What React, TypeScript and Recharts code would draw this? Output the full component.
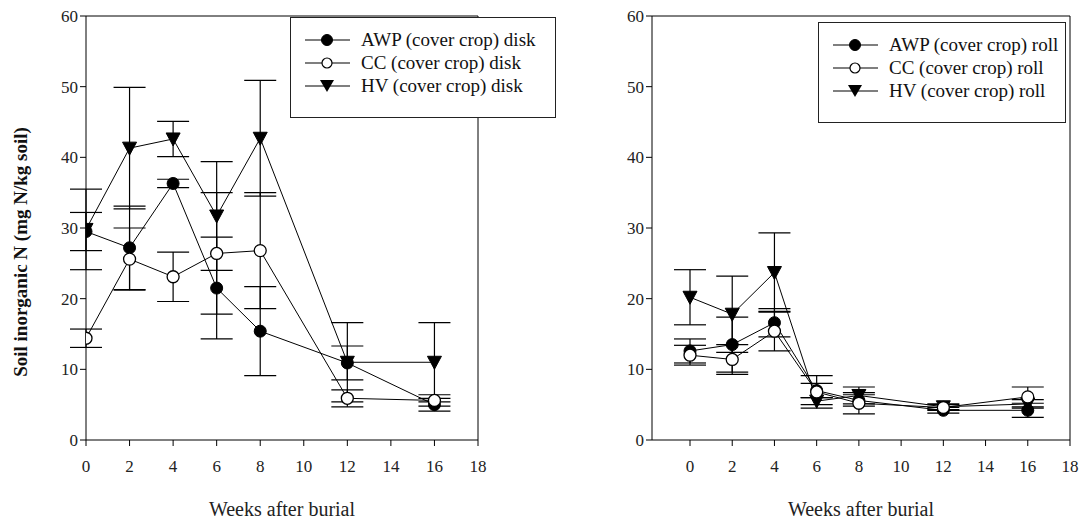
import React from 'react';
import { LineChart, Line, XAxis, YAxis, ErrorBar, Legend, ReferenceLine } from 'recharts';

const weeks = [0, 2, 4, 6, 8, 12, 16];

const awpDisk = [29.5, 27.2, 36.3, 21.5, 15.4, 10.9, 5.0];
const awpDiskErr = [2.7, 5.9, 0.6, 7.2, 6.3, 2.4, 0.9];
const ccDisk = [14.4, 25.6, 23.1, 26.4, 26.8, 5.9, 5.6];
const ccDiskErr = [1.3, 4.4, 3.5, 8.6, 8.2, 1.2, 0.8];
const hvDisk = [29.8, 41.3, 42.6, 31.7, 42.7, 11.0, 11.0];
const hvDiskErr = [5.7, 8.6, 2.5, 7.7, 8.2, 5.6, 5.6];

const awpRoll = [12.6, 13.5, 16.6, 7.0, 5.6, 4.2, 4.2];
const awpRollErr = [1.7, 3.9, 2.0, 1.0, 0.8, 0.4, 1.0];
const ccRoll = [12.0, 11.4, 15.4, 6.8, 5.2, 4.6, 6.1];
const ccRollErr = [1.4, 2.1, 2.8, 2.3, 1.5, 0.4, 1.4];
const hvRoll = [20.2, 17.8, 23.7, 5.5, 6.3, 4.7, 5.1];
const hvRollErr = [3.9, 5.4, 5.6, 0.5, 1.2, 0.4, 0.6];

const xTicks = [0, 2, 4, 6, 8, 10, 12, 14, 16, 18];
const yTicks = [0, 10, 20, 30, 40, 50, 60];

const diskLabels = ['AWP (cover crop) disk', 'CC (cover crop) disk', 'HV (cover crop) disk'];
const rollLabels = ['AWP (cover crop) roll', 'CC (cover crop) roll', 'HV (cover crop) roll'];

const FONT = 'Liberation Serif';

function buildRows(a: number[], ae: number[], c: number[], ce: number[], h: number[], he: number[]) {
  return weeks.map((w, i) => ({
    week: w,
    awp: a[i], awpErr: ae[i],
    cc: c[i], ccErr: ce[i],
    hv: h[i], hvErr: he[i],
  }));
}

const diskRows = buildRows(awpDisk, awpDiskErr, ccDisk, ccDiskErr, hvDisk, hvDiskErr);
const rollRows = buildRows(awpRoll, awpRollErr, ccRoll, ccRollErr, hvRoll, hvRollErr);

const Tri = (props: any) => {
  const { cx, cy, index } = props;
  if (cx == null || cy == null) return null;
  return (
    <path
      key={`tri-${index}`}
      d={`M${cx - 7},${cy - 6} L${cx + 7},${cy - 6} L${cx},${cy + 7} Z`}
      fill="#000"
      stroke="#000"
      strokeWidth={1}
    />
  );
};

const makeLegend = (labels: string[]) => () => (
  <div
    style={{
      border: '1.5px solid #222',
      background: '#fff',
      padding: '10px 0 10px 12px',
      boxSizing: 'border-box',
      width: '100%',
      height: '100%',
      fontFamily: FONT,
      fontSize: 19,
      color: '#111',
    }}
  >
    {labels.map((lab, i) => (
      <div key={lab} style={{ display: 'flex', alignItems: 'center', height: 23, whiteSpace: 'nowrap' }}>
        <svg width={52} height={16} style={{ marginRight: 6 }}>
          <line x1={2} y1={8} x2={47} y2={8} stroke="#000" strokeWidth={1.2} />
          {i === 0 && <circle cx={24} cy={8} r={5.5} fill="#000" stroke="#000" />}
          {i === 1 && <circle cx={24} cy={8} r={5} fill="#fff" stroke="#000" strokeWidth={1.2} />}
          {i === 2 && <path d="M17,2 L31,2 L24,14 Z" fill="#000" />}
        </svg>
        <span>{lab}</span>
      </div>
    ))}
  </div>
);

const tickStyle = { fontFamily: FONT, fontSize: 17, fill: '#222' };

type PanelProps = {
  rows: any[];
  width: number;
  left: number;
  marginLeft: number;
  marginRight: number;
  xMin: number;
  labels: string[];
  legendPos: { left: number; top: number; width: number; height: number };
  yTitle?: boolean;
};

const Panel = ({ rows, width, left, marginLeft, marginRight, xMin, labels, legendPos, yTitle }: PanelProps) => (
  <div style={{ position: 'absolute', left, top: 0 }}>
    <LineChart
      width={width}
      height={527}
      data={rows}
      margin={{ top: 16, right: marginRight, left: marginLeft, bottom: 7 }}
      style={{ fontFamily: FONT }}
    >
      <XAxis
        dataKey="week"
        type="number"
        domain={[xMin, 18]}
        ticks={xTicks}
        allowDataOverflow
        stroke="#000"
        tickSize={6}
        tickMargin={14}
        tick={tickStyle}
        height={80}
        interval={0}
        label={{
          value: 'Weeks after burial',
          position: 'insideBottom',
          offset: 4,
          style: { fontFamily: FONT, fontSize: 20, fill: '#222' },
        }}
      />
      <YAxis
        type="number"
        domain={[0, 60]}
        ticks={yTicks}
        stroke="#000"
        tickSize={6}
        tickMargin={2}
        tick={tickStyle}
        width={70}
        interval={0}
        label={
          yTitle
            ? {
                content: () => (
                  <text
                    x={20}
                    y={252}
                    transform="rotate(-90 20 252)"
                    textAnchor="middle"
                    dominantBaseline="central"
                    style={{ fontFamily: FONT, fontSize: 19, fontWeight: 'bold', fill: '#111' }}
                  >
                    Soil inorganic N (mg N/kg soil)
                  </text>
                ),
              }
            : undefined
        }
      />
      <ReferenceLine y={60} stroke="#000" strokeWidth={1} />
      <ReferenceLine x={18} stroke="#000" strokeWidth={1} />
      <Legend
        layout="vertical"
        align="center"
        verticalAlign="middle"
        content={makeLegend(labels)}
        wrapperStyle={{ position: 'absolute', ...legendPos }}
      />
      <Line
        dataKey="hv"
        name={labels[2]}
        type="linear"
        stroke="#000"
        strokeWidth={1}
        dot={Tri}
        activeDot={false}
        isAnimationActive={false}
      >
        <ErrorBar dataKey="hvErr" width={16} stroke="#000" strokeWidth={1.2} />
      </Line>
      <Line
        dataKey="awp"
        name={labels[0]}
        type="linear"
        stroke="#000"
        strokeWidth={1}
        dot={{ r: 6, fill: '#000', stroke: '#000', strokeWidth: 1 }}
        activeDot={false}
        isAnimationActive={false}
      >
        <ErrorBar dataKey="awpErr" width={16} stroke="#000" strokeWidth={1.2} />
      </Line>
      <Line
        dataKey="cc"
        name={labels[1]}
        type="linear"
        stroke="#000"
        strokeWidth={1}
        dot={{ r: 6, fill: '#fff', stroke: '#000', strokeWidth: 1.3 }}
        activeDot={false}
        isAnimationActive={false}
      >
        <ErrorBar dataKey="ccErr" width={16} stroke="#000" strokeWidth={1.2} />
      </Line>
    </LineChart>
  </div>
);

export default function App() {
  return (
    <div style={{ position: 'absolute', left: 0, top: 0, width: 1089, height: 527, background: '#fff', fontFamily: FONT }}>
      <Panel
        rows={diskRows}
        width={560}
        left={0}
        marginLeft={16}
        marginRight={82}
        xMin={0}
        labels={diskLabels}
        legendPos={{ left: 290, top: 17, width: 266, height: 101 }}
        yTitle
      />
      <Panel
        rows={rollRows}
        width={529}
        left={560}
        marginLeft={22}
        marginRight={19}
        xMin={-1.8}
        labels={rollLabels}
        legendPos={{ left: 258, top: 22, width: 248, height: 101 }}
      />
    </div>
  );
}
